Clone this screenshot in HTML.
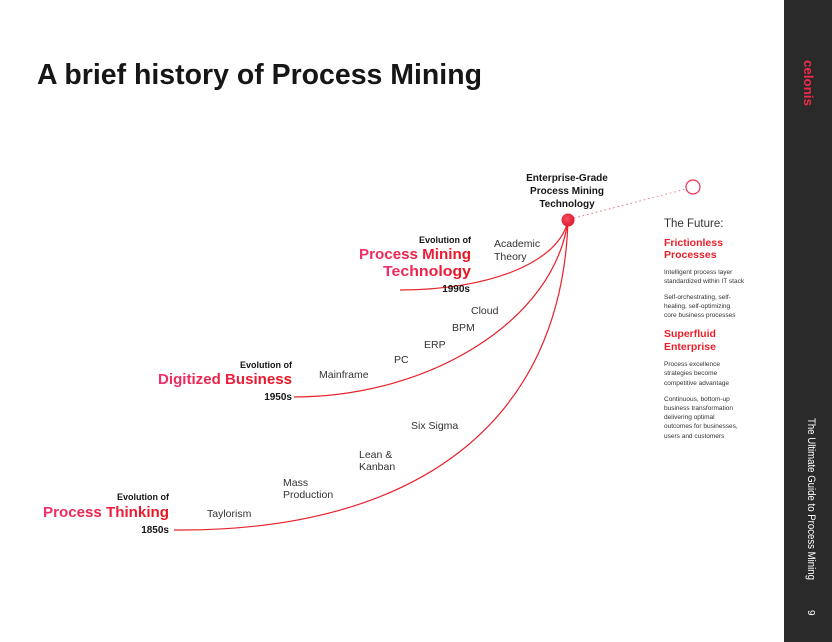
<!DOCTYPE html>
<html><head><meta charset="utf-8"><style>
html,body{margin:0;padding:0;background:#fff}
svg{display:block;font-family:"Liberation Sans",sans-serif}
</style></head><body>
<svg width="832" height="642" viewBox="0 0 832 642">
<defs>
<linearGradient id="g" x1="0" x2="1" y1="0" y2="0"><stop offset="0" stop-color="#f0306e"/><stop offset="1" stop-color="#e8141c"/></linearGradient>
<radialGradient id="nd" cx="0.4" cy="0.4" r="0.6"><stop offset="0" stop-color="#f2505e"/><stop offset="1" stop-color="#e01830"/></radialGradient>
</defs>
<rect width="832" height="642" fill="#fff"/>
<rect x="784" y="0" width="48" height="642" fill="#2a2a2a"/>
<text transform="translate(804,60) rotate(90)" font-size="13" fill="#ee2a4a" font-weight="bold" textLength="46" lengthAdjust="spacingAndGlyphs">celonis</text>
<text transform="translate(808,418) rotate(90)" font-size="11" fill="#fff" textLength="162" lengthAdjust="spacingAndGlyphs">The Ultimate Guide to Process Mining</text>
<text transform="translate(808,610) rotate(90)" font-size="10" fill="#fff">9</text>

<text x="37" y="84" font-size="29" font-weight="bold" fill="#161616" textLength="445" lengthAdjust="spacingAndGlyphs">A brief history of Process Mining</text>

<g fill="none" stroke="#e8202a" stroke-width="1.2">
<path d="M400,290 C490,290 560,262 568,220"/>
<path d="M294,397 C430,397 555,320 568,220"/>
<path d="M174,530 C420,532 562,420 568,220"/>
</g>
<line x1="574" y1="218" x2="686" y2="189" stroke="#f07080" stroke-width="1" stroke-dasharray="1.5,3"/>
<circle cx="693" cy="187" r="7" fill="#fff" stroke="#ee3050" stroke-width="1.2"/>
<circle cx="568" cy="220" r="6.5" fill="url(#nd)"/>

<g font-size="10" font-weight="bold" fill="#161616" text-anchor="middle">
<text x="567" y="181">Enterprise-Grade</text><text x="567" y="194">Process Mining</text><text x="567" y="207">Technology</text>
</g>

<g text-anchor="end">
<text x="471" y="243" font-size="9" font-weight="bold" fill="#161616">Evolution of</text>
<text x="471" y="259" font-size="15" font-weight="bold" fill="url(#g)" textLength="112" lengthAdjust="spacingAndGlyphs">Process Mining</text>
<text x="471" y="276" font-size="15" font-weight="bold" fill="url(#g)" textLength="88" lengthAdjust="spacingAndGlyphs">Technology</text>
<text x="470" y="292" font-size="10" font-weight="bold" fill="#161616">1990s</text>
</g>
<g text-anchor="end">
<text x="292" y="368" font-size="9" font-weight="bold" fill="#161616">Evolution of</text>
<text x="292" y="384" font-size="15" font-weight="bold" fill="url(#g)" textLength="134" lengthAdjust="spacingAndGlyphs">Digitized Business</text>
<text x="292" y="400" font-size="10" font-weight="bold" fill="#161616">1950s</text>
</g>
<g text-anchor="end">
<text x="169" y="500" font-size="9" font-weight="bold" fill="#161616">Evolution of</text>
<text x="169" y="517" font-size="15" font-weight="bold" fill="url(#g)" textLength="126" lengthAdjust="spacingAndGlyphs">Process Thinking</text>
<text x="169" y="533" font-size="10" font-weight="bold" fill="#161616">1850s</text>
</g>

<g font-size="10.5" fill="#333">
<text x="494" y="247">Academic</text><text x="494" y="260">Theory</text>
<text x="471" y="314">Cloud</text>
<text x="452" y="331">BPM</text>
<text x="424" y="348">ERP</text>
<text x="394" y="363">PC</text>
<text x="319" y="378">Mainframe</text>
<text x="411" y="429">Six Sigma</text>
<text x="359" y="458">Lean &amp;</text><text x="359" y="470">Kanban</text>
<text x="283" y="486">Mass</text><text x="283" y="498">Production</text>
<text x="207" y="517">Taylorism</text>
</g>

<g>
<text x="664" y="227" font-size="11.5" fill="#333">The Future:</text>
<text x="664" y="246" font-size="10.5" font-weight="bold" fill="#e8202a">Frictionless</text>
<text x="664" y="258" font-size="10.5" font-weight="bold" fill="#e8202a">Processes</text>
<g font-size="6.5" fill="#333">
<text x="664" y="274">Intelligent process layer</text><text x="664" y="283">standardized within IT stack</text>
<text x="664" y="299">Self-orchestrating, self-</text><text x="664" y="308">healing, self-optimizing</text><text x="664" y="317">core business processes</text>
</g>
<text x="664" y="337" font-size="10.5" font-weight="bold" fill="#e8202a">Superfluid</text>
<text x="664" y="350" font-size="10.5" font-weight="bold" fill="#e8202a">Enterprise</text>
<g font-size="6.5" fill="#333">
<text x="664" y="366">Process excellence</text><text x="664" y="375">strategies become</text><text x="664" y="385">competitive advantage</text>
<text x="664" y="401">Continuous, bottom-up</text><text x="664" y="410">business transformation</text><text x="664" y="419">delivering optimal</text><text x="664" y="428">outcomes for businesses,</text><text x="664" y="438">users and customers</text>
</g>
</g>
</svg>
</body></html>
